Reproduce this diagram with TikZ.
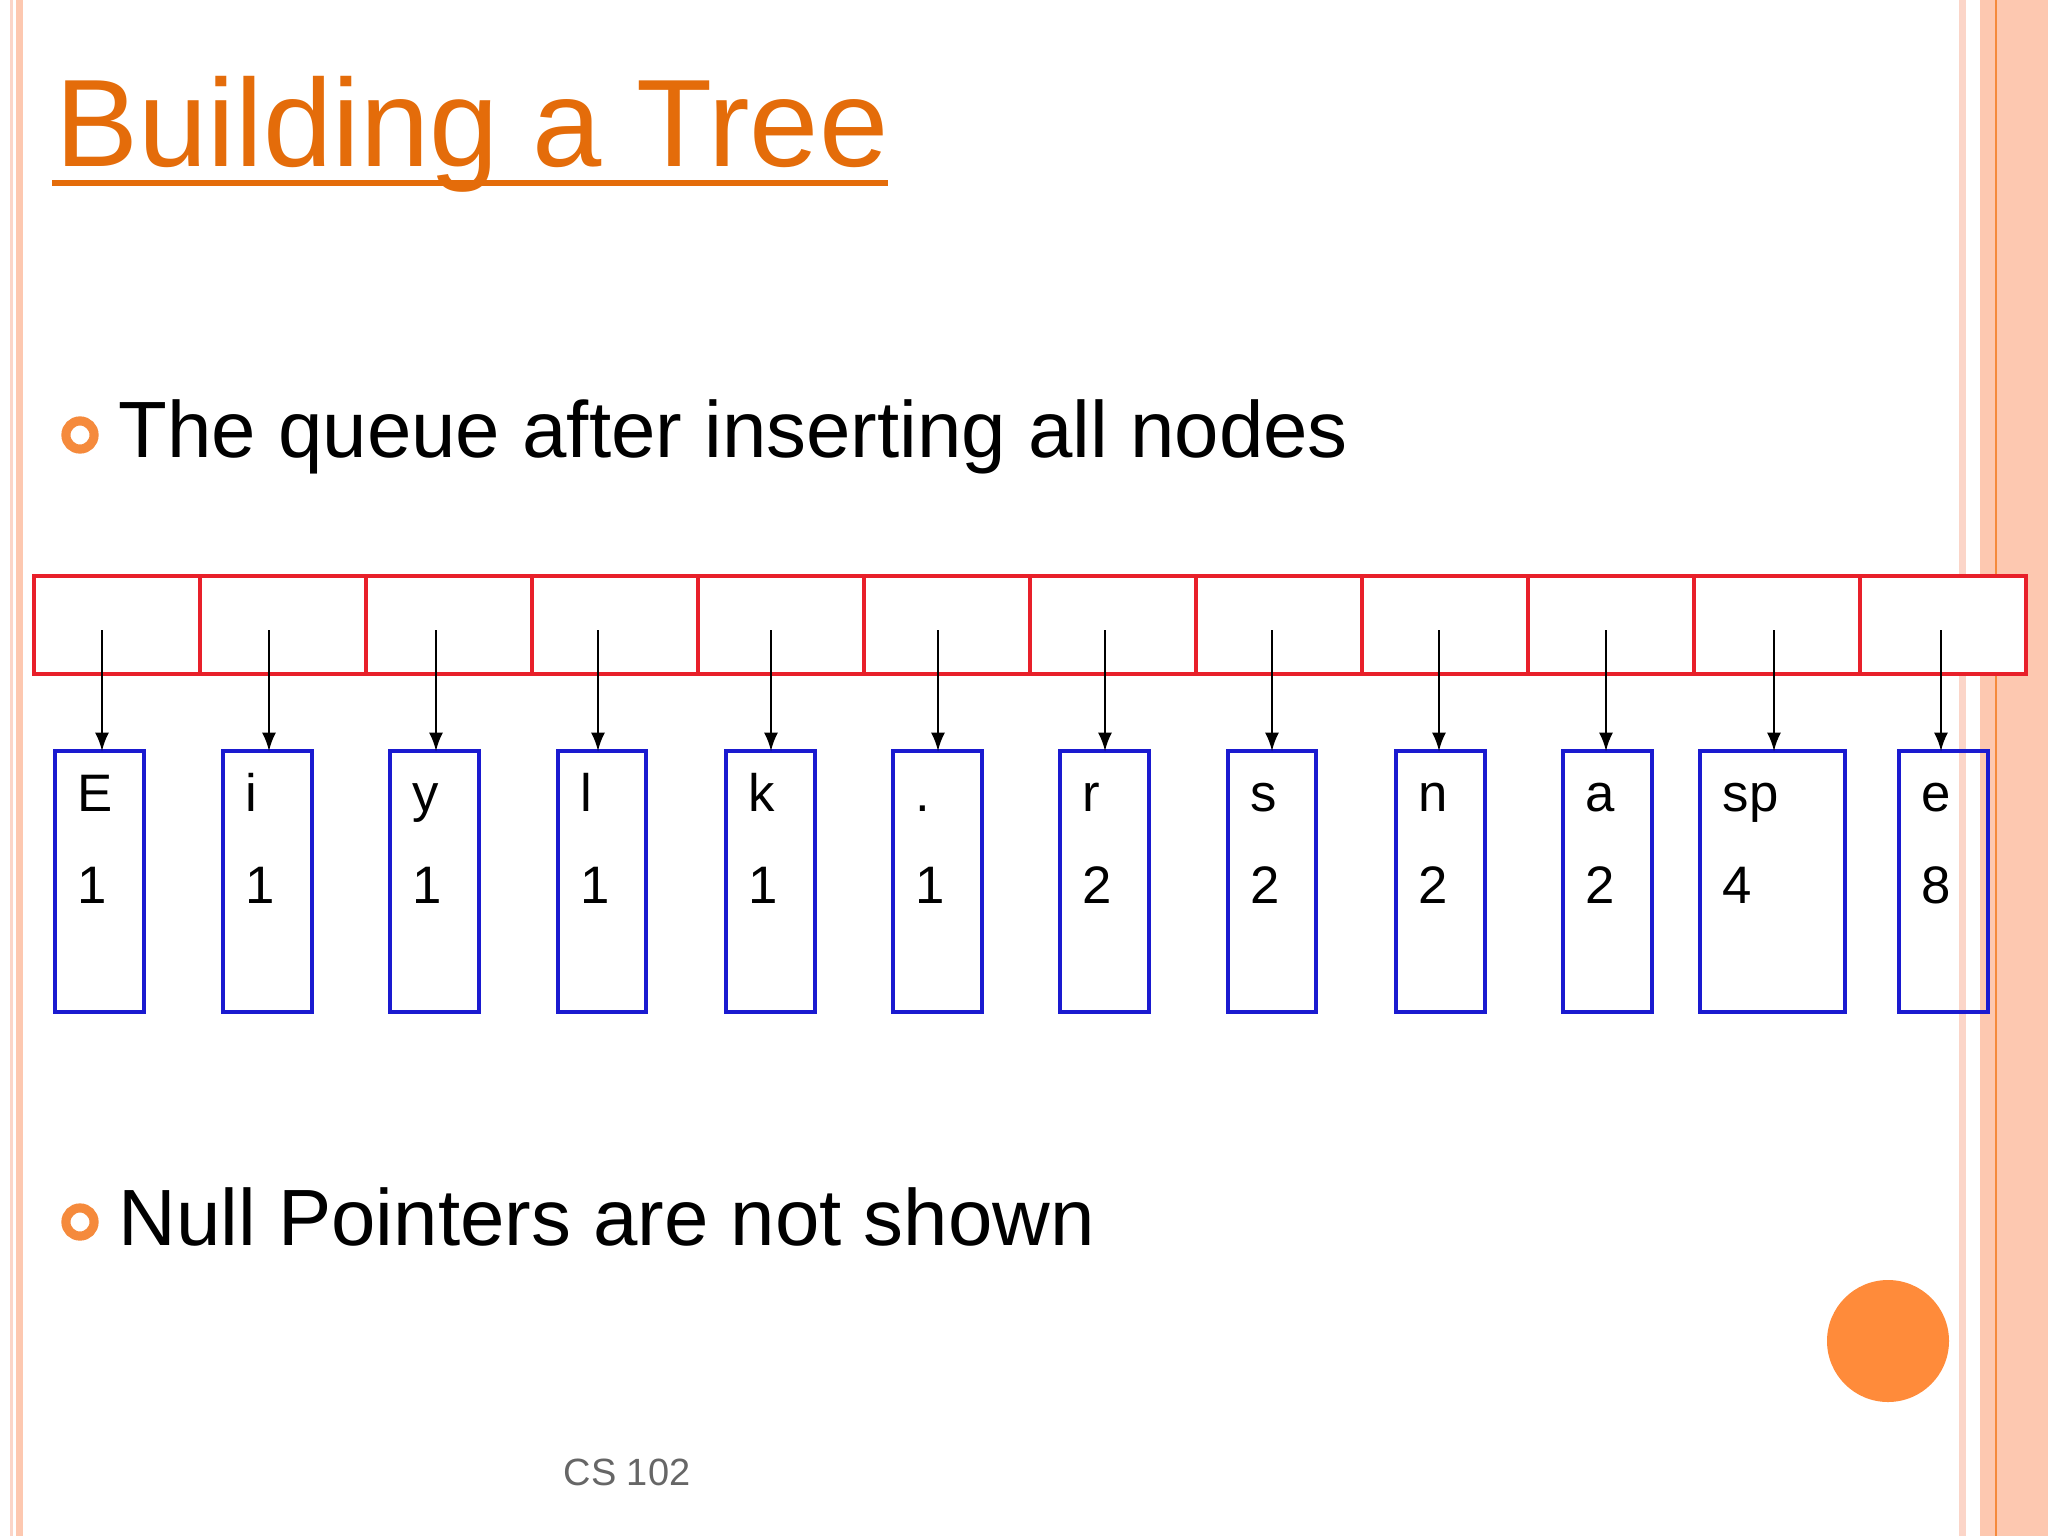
\documentclass[tikz,border=0pt]{standalone}
\usepackage{fontspec}
\setmainfont{Liberation Sans}
\definecolor{ttl}{HTML}{E46C0A}
\definecolor{peach}{HTML}{FDC8B0}
\definecolor{pale}{HTML}{FBD5C8}
\definecolor{orng}{HTML}{F58A3C}
\definecolor{ball}{HTML}{FF8B3A}
\definecolor{qred}{HTML}{E8202A}
\definecolor{qblue}{HTML}{1A1AD0}
\begin{document}
\begin{tikzpicture}[x=0.01cm,y=-0.01cm,
  nodebox/.style={draw=qblue,line width=0.9pt},
  lbl/.style={anchor=base west,inner sep=0,font=\fontsize{15pt}{18pt}\selectfont},
  ptr/.style={-latex,line width=0.8pt},
  bul/.style={circle,draw=orng,line width=2.6pt,minimum size=8pt,inner sep=0}]
\useasboundingbox (0,0) rectangle (2048,1536);
\fill[white] (0,0) rectangle (2048,1536);
% decorations
\fill[pale] (10,0) rectangle (13,1536);
\fill[peach] (16,0) rectangle (23,1536);
\fill[pale] (1959,0) rectangle (1966,1536);
\fill[peach] (1980,0) rectangle (2048,1536);
\draw[orng,line width=0.8pt] (1996,0) -- (1996,1536);
% title
\node[anchor=base west,inner sep=0,text=ttl,font=\fontsize{35.4pt}{40pt}\selectfont] (title) at (55,166) {Building a Tree};
\draw[ttl,line width=1.8pt] (52,183) -- (888,183);
% bullets
\node[bul] (b1) at (80,435) {};
\node[anchor=base west,inner sep=0,font=\fontsize{22.7pt}{28pt}\selectfont] (t1) at (118,457) {The queue after inserting all nodes};
\node[bul] (b2) at (80,1222) {};
\node[anchor=base west,inner sep=0,font=\fontsize{22.7pt}{28pt}\selectfont] (t2) at (118,1245) {Null Pointers are not shown};
% queue
\foreach \i in {0,...,11}{
  \draw[qred,line width=1.1pt,fill=white] ({34+166*\i},576) rectangle ({34+166*(\i+1)},674);
}
\foreach \a/\b/\c/\n/\px in {55/144/E/1/102, 223/312/i/1/269, 390/479/y/1/436, 558/646/l/1/598, 726/815/k/1/771, 893/982/./1/938, 1060/1149/r/2/1105, 1228/1316/s/2/1272, 1396/1485/n/2/1439, 1563/1652/a/2/1606, 1700/1845/sp/4/1774, 1899/1988/e/8/1941}{
  \draw[nodebox] (\a,751) rectangle (\b,1012);
  \node[lbl] at ({\a+22},811) {\c};
  \node[lbl] at ({\a+22},903) {\n};
  \coordinate (s\px) at (\px,630);
  \coordinate (e\px) at (\px,751);
  \draw[ptr] (s\px) -- (e\px);
}
% ball
\fill[ball] (1888,1341) circle (61);
\node[text=black!60,font=\fontsize{10.8pt}{14pt}\selectfont] (foot) at (627,1472) {CS 102};
\end{tikzpicture}
\end{document}
